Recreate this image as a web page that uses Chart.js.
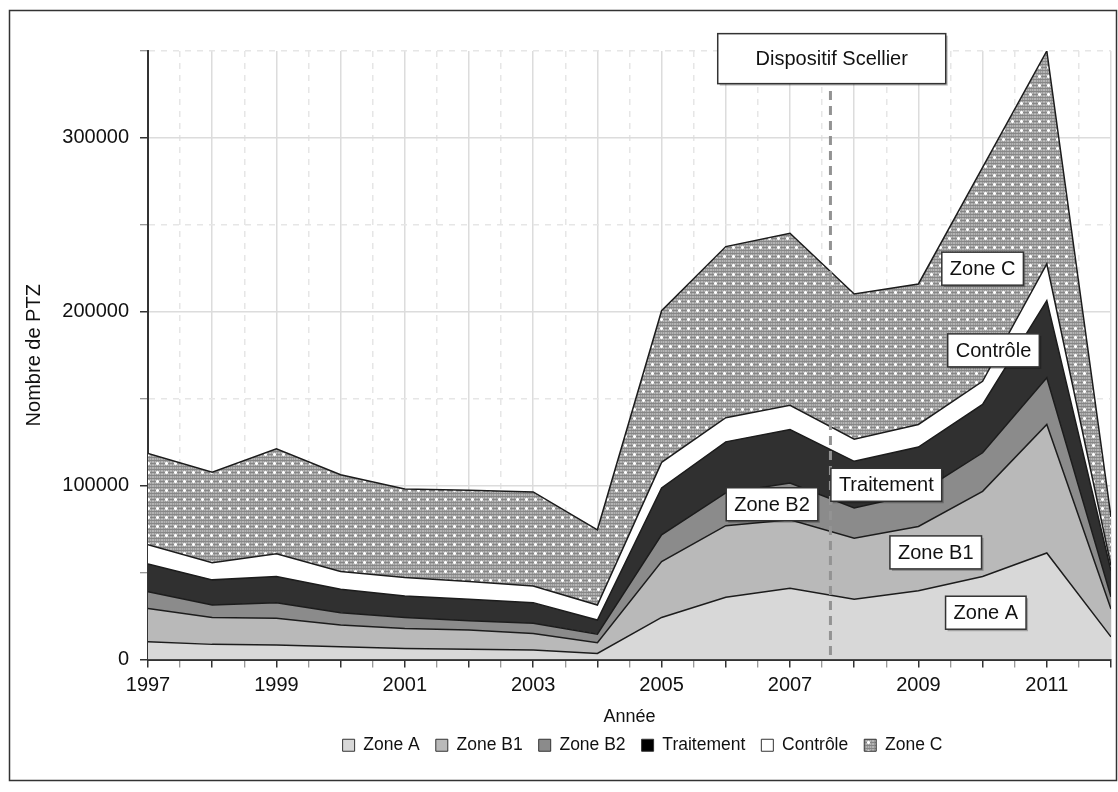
<!DOCTYPE html>
<html><head><meta charset="utf-8">
<script src="https://cdn.jsdelivr.net/npm/chart.js@4/dist/chart.umd.min.js"></script>
<style>html,body{margin:0;padding:0;background:#fff}canvas{display:block}</style>
</head><body>
<canvas id="c" width="1118" height="792"></canvas>
<script>
// ---- data ----
const years = [1997,1998,1999,2000,2001,2002,2003,2004,2005,2006,2007,2008,2009,2010,2011,2012];
const zoneA      = [10200, 8700, 8300, 7300, 6300, 5900, 5400, 3500, 24200, 35800, 41000, 34600, 39500, 47700, 61300, 13000];
const zoneB1     = [19200,15500,15400,12500,11600,11000, 9600, 6100, 32100, 41200, 39400, 35200, 37000, 49000, 73900, 16000];
const zoneB2     = [ 9600, 7100, 9000, 7100, 6300, 5400, 5800, 5000, 15400, 18800, 21100, 17300, 19000, 22200, 26900,  7000];
const traitement = [16000,14500,15000,13500,12300,12300,11900, 8100, 27000, 29400, 30800, 26900, 26700, 27800, 44300, 15000];
const controle   = [11000, 9900,13100,10200,10600,10200, 9600, 8600, 14700, 13900, 13900, 12700, 13000, 13300, 21100,  3000];
const zoneC      = [52500,52000,60400,55700,51000,52500,54100,43300, 87200, 98400, 99000, 83500, 80800,123000,122500, 28000];
const seriesNames = ['Zone A','Zone B1','Zone B2','Traitement','Contrôle','Zone C'];
const xTickLabels = ['1997','1999','2001','2003','2005','2007','2009','2011'];
const yTickLabels = ['0','100000','200000','300000'];
const scellierYear = 2007.63;
const annotTexts  = ['Dispositif Scellier','Zone C','Contrôle','Traitement','Zone B2','Zone B1','Zone A'];
const annotYears  = [2007.65, 2010.0, 2010.17, 2008.50, 2006.72, 2009.27, 2010.05];
const annotValues = [345600, 224800, 177800, 100500, 89300, 61600, 26900];

// ---- styles ----
const canvas = document.getElementById('c');
const ctx0 = canvas.getContext('2d');
function makePattern(){
  const t = document.createElement('canvas'); t.width = 9; t.height = 9;
  const g = t.getContext('2d');
  g.fillStyle = '#9a9a9a'; g.fillRect(0,0,9,9);
  g.fillStyle = '#b4b4b4';
  for (let i = 0; i < 9; i += 2) g.fillRect(i,0,1,9);
  g.fillStyle = '#868686';
  for (let j = 1; j < 9; j += 3) g.fillRect(0,j,9,1);
  g.fillStyle = '#dcdcdc'; g.fillRect(3,3,3,3);
  g.fillStyle = '#ffffff'; g.fillRect(4,3,1,3); g.fillRect(3,4,3,1);
  return ctx0.createPattern(t,'repeat');
}
const fills = ['#d8d8d8','#b9b9b9','#8b8b8b','#303030','#ffffff', makePattern()];
const legendFills = ['#d8d8d8','#b9b9b9','#8b8b8b','#000000','#ffffff', fills[5]];
const series = [zoneA, zoneB1, zoneB2, traitement, controle, zoneC];
const FONT = '"Liberation Sans", Arial, Helvetica, sans-serif';

const overlay = {
  id: 'overlay',
  beforeDraw(chart){
    const c = chart.ctx; c.save(); c.fillStyle = '#fff'; c.fillRect(0,0,chart.width,chart.height); c.restore();
  },
  afterLayout(chart){
    if (chart.legend){ chart.legend.left += 87; chart.legend.right += 87; }
  },
  afterDatasetsDraw(chart){
    const c = chart.ctx, x = chart.scales.x, y = chart.scales.y;
    c.save();
    c.strokeStyle = '#939393'; c.lineWidth = 3; c.setLineDash([9,6]);
    const px = x.getPixelForValue(scellierYear);
    c.beginPath(); c.moveTo(px, y.getPixelForValue(327000)); c.lineTo(px, y.getPixelForValue(0)); c.stroke();
    c.setLineDash([]);
    c.font = '20px ' + FONT; c.textAlign = 'center'; c.textBaseline = 'middle';
    annotTexts.forEach((t,i) => {
      const cx = x.getPixelForValue(annotYears[i]), cy = y.getPixelForValue(annotValues[i]);
      const w = i === 0 ? 228 : c.measureText(t).width + 16;
      const h = i === 0 ? 50 : 33;
      c.fillStyle = 'rgba(0,0,0,0.25)'; c.fillRect(cx - w/2 + 2, cy - h/2 + 2, w, h);
      c.fillStyle = '#fff'; c.fillRect(cx - w/2, cy - h/2, w, h);
      c.strokeStyle = '#333'; c.lineWidth = 1.5; c.strokeRect(cx - w/2, cy - h/2, w, h);
      c.fillStyle = '#111'; c.fillText(t, cx, cy + 1);
    });
    c.restore();
  },
  afterDraw(chart){
    const c = chart.ctx; c.save(); c.strokeStyle = '#333'; c.lineWidth = 1.5;
    c.strokeRect(9.5, 10.5, 1107, 770); c.restore();
  }
};

const isMajorX = v => Number.isInteger(v);
const isMajorY = v => v % 100000 === 0;

new Chart(canvas, {
  type: 'line',
  data: {
    datasets: seriesNames.map((name,i) => ({
      label: name,
      data: years.map((yr,j) => ({x: yr, y: series[i][j]})),
      backgroundColor: fills[i],
      borderColor: '#1c1c1c',
      borderWidth: 1.5,
      fill: i === 0 ? 'origin' : '-1',
      pointRadius: 0,
      tension: 0
    }))
  },
  options: {
    responsive: false,
    animation: false,
    devicePixelRatio: 1,
    layout: { padding: { left: 0, right: 7, top: 51, bottom: 28 } },
    plugins: {
      tooltip: { enabled: false },
      legend: {
        position: 'bottom',
        labels: {
          font: { size: 17.5, family: FONT },
          color: '#111',
          boxWidth: 12, boxHeight: 12, padding: 16,
          generateLabels(chart){
            return chart.data.datasets.map((ds,i) => ({
              text: ds.label, fillStyle: legendFills[i], strokeStyle: '#333', lineWidth: 1,
              hidden: false, datasetIndex: i, fontColor: '#111'
            }));
          }
        }
      }
    },
    scales: {
      x: {
        type: 'linear', min: 1997, max: 2012,
        afterFit(s){ s.height = 61; },
        ticks: {
          stepSize: 0.5, autoSkip: false, maxRotation: 0, padding: 6,
          font: { size: 20, family: FONT }, color: '#111',
          callback: v => xTickLabels.includes(String(v)) ? String(v) : ''
        },
        grid: {
          color: c => c.tick && isMajorX(c.tick.value) ? '#dcdcdc' : '#e6e6e6',
          lineWidth: 1.5, tickLength: 8,
          tickColor: c => c.tick && isMajorX(c.tick.value) ? '#333' : '#777',
          tickWidth: c => c.tick && isMajorX(c.tick.value) ? 1.5 : 1
        },
        border: { color: '#333', width: 2, dash: c => (c.tick && !isMajorX(c.tick.value)) ? [6,6] : [] },
        title: { display: true, text: 'Année', font: { size: 18, family: FONT }, color: '#111', padding: { top: 0, bottom: -7 } }
      },
      y: {
        stacked: true, min: 0, max: 350000,
        afterFit(s){ s.width = 148; },
        ticks: {
          stepSize: 50000, padding: 11,
          font: { size: 20, family: FONT }, color: '#111',
          callback: v => yTickLabels.includes(String(v)) ? String(v) : ''
        },
        grid: {
          color: c => c.tick && isMajorY(c.tick.value) ? '#dcdcdc' : '#e6e6e6',
          lineWidth: 1.5, tickLength: 8,
          tickColor: c => c.tick && isMajorY(c.tick.value) ? '#333' : '#777',
          tickWidth: c => c.tick && isMajorY(c.tick.value) ? 1.5 : 1
        },
        border: { color: '#333', width: 2, dash: c => (c.tick && !isMajorY(c.tick.value)) ? [6,6] : [] },
        title: { display: true, text: 'Nombre de PTZ', font: { size: 20, family: FONT }, color: '#111', padding: { top: 22, bottom: 0 } }
      }
    }
  },
  plugins: [overlay]
});
</script>
</body></html>
